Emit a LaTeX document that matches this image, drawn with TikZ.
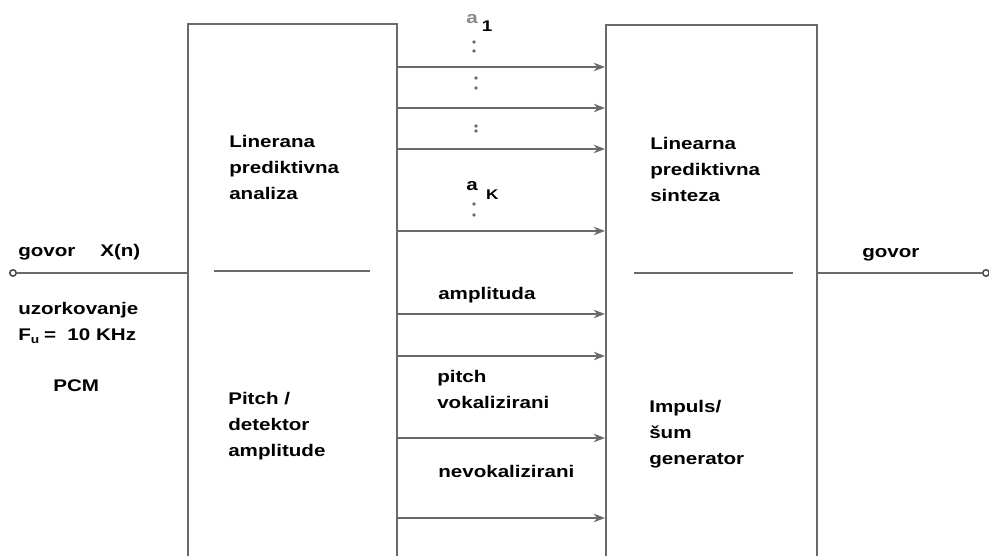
\documentclass[tikz,border=0pt]{standalone}
\usepackage{fontspec}
\newfontfamily\lbl[FakeStretch=1.22]{Liberation Sans}
\usetikzlibrary{arrows.meta}
\definecolor{ln}{HTML}{6A6A6A}
\tikzset{
  wire/.style={draw=ln, line width=1.6pt},
  arr/.style={wire, -{Stealth[length=8pt,width=6pt]}},
  blk/.style={draw=ln, line width=1.6pt, rectangle, anchor=north west, inner sep=0pt},
  port/.style={circle, draw=ln!70!black, line width=1.1pt, fill=white, inner sep=0pt, minimum size=0.16cm},
  txt/.style={inner sep=0pt, align=left, font=\lbl\bfseries\fontsize{12}{18.6}\selectfont},
  tl/.style={txt, anchor=north west},
  bl/.style={txt, anchor=base west},
  vdot/.style={circle, fill=ln, inner sep=0pt, minimum size=2.6pt}
}
\begin{document}
\begin{tikzpicture}[x=0.025cm, y=-0.025cm]
\useasboundingbox (0,0) rectangle (989,556);
\clip (0,0) rectangle (989,556);
% blocks (open at the bottom of the page)
\node[blk, minimum width=5.225cm, minimum height=14.5cm] (lb) at (187,23) {};
\node[blk, minimum width=5.275cm, minimum height=14.5cm] (rb) at (605,24) {};
% inner dividers
\coordinate (ld1) at (214,271); \coordinate (ld2) at (370,271);
\coordinate (rd1) at (634,273); \coordinate (rd2) at (793,273);
\draw[wire] (ld1) -- (ld2);
\draw[wire] (rd1) -- (rd2);
% input / output
\node[port] (inp) at (13,273) {};
\node[port] (outp) at (986,273) {};
\draw[wire] (inp) -- (lb.west |- inp);
\draw[wire] (rb.east |- outp) -- (outp);
% parameter arrows
\foreach \yy [count=\i] in {67,108,149,231,314,356,438,518} {
  \coordinate (c\i) at (300,\yy);
  \draw[arr] (lb.east |- c\i) -- (rb.west |- c\i);
}
% block texts
\node[tl] (t1) at (229,135) {Linerana\\prediktivna\\analiza};
\node[tl] (t2) at (228,392) {Pitch /\\detektor\\amplitude};
\node[tl] (t3) at (650,137) {Linearna\\prediktivna\\sinteza};
\node[tl] (t4) at (649,400) {Impuls/\\šum\\generator};
% left side texts
\node[bl] (g1) at (18,257) {govor};
\node[bl] (xn) at (100,257) {X(n)};
\node[tl] (uz) at (18,302) {uzorkovanje\\F\textsubscript{u}\hspace{3pt}=\hspace{8pt}10 KHz};
\node[bl] (pcm) at (53,392) {PCM};
% right side text
\node[bl] (g2) at (862,258) {govor};
% parameter labels
\node[bl] (a1) at (466,24) {{\color{ln!80}a}\hspace{3pt}\raisebox{-5pt}{\fontsize{11}{12}\selectfont 1}};
\node[vdot] (d1) at (474,42) {};
\node[vdot] (d2) at (474,51) {};
\node[vdot] (d3) at (476,78) {};
\node[vdot] (d4) at (476,88) {};
\node[vdot] (d5) at (476,126) {};
\node[vdot] (d6) at (476,131) {};
\node[bl] (ak) at (466,191) {a\hspace{6pt}\raisebox{-6pt}{\fontsize{10}{12}\selectfont K}};
\node[vdot] (d7) at (474,204) {};
\node[vdot] (d8) at (474,215) {};
\node[bl] (amp) at (438,300) {amplituda};
\node[tl] (pv) at (437,370) {pitch\\vokalizirani};
\node[bl] (nv) at (438,478) {nevokalizirani};
\end{tikzpicture}
\end{document}
